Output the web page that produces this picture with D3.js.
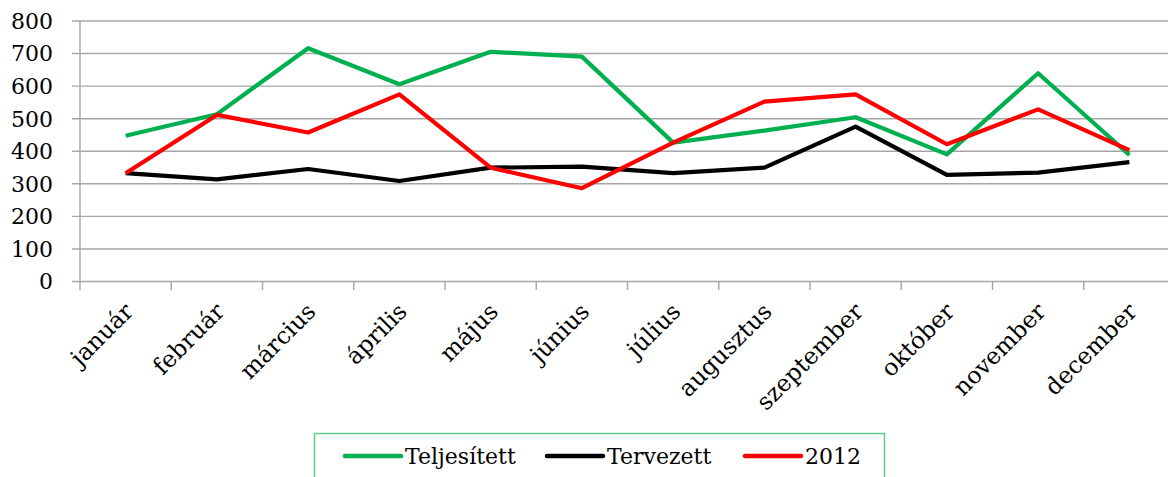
<!DOCTYPE html>
<html>
<head>
<meta charset="utf-8">
<script src="https://cdn.jsdelivr.net/npm/d3@7"></script>
<style>
  body { margin: 0; background: #fff; }
  svg { display: block; }
  text { font-family: "DejaVu Serif", "Liberation Serif", serif; fill: #000; }
</style>
</head>
<body>
<svg id="chart" width="1168" height="477"></svg>
<script>
// data
var months = ["január", "február", "március", "április", "május", "június",
              "július", "augusztus", "szeptember", "október", "november", "december"];
var teljesitett = [446, 512, 715, 604, 704, 689, 425, 462, 503, 389, 638, 387];
var tervezett   = [331, 312, 344, 307, 348, 351, 331, 348, 474, 326, 333, 365];
var ev2012      = [331, 510, 456, 573, 348, 285, 425, 551, 573, 420, 527, 402];
var yTicks = [0, 100, 200, 300, 400, 500, 600, 700, 800];

var series = [
    {name: "Teljesített", values: teljesitett, color: "#00b050"},
    {name: "Tervezett",   values: tervezett,   color: "#000000"},
    {name: "2012",        values: ev2012,      color: "#ff0000"}
];

function drawChart() {
    var svg = d3.select("#chart");

    // plot area (right edge runs slightly past the picture, as in the original)
    var pLeft = 80, pRight = 1175, pTop = 20.5, pBottom = 281;

    var x = d3.scaleBand().domain(months).range([pLeft, pRight]);
    var y = d3.scaleLinear().domain([0, 800]).range([pBottom, pTop]);

    // horizontal gridlines with little ticks to the left
    var yAxis = d3.axisLeft(y)
        .tickValues(yTicks)
        .tickSize(-(pRight - pLeft))
        .tickSizeOuter(0)
        .tickPadding(27);

    var gy = svg.append("g")
        .attr("transform", "translate(" + pLeft + ",0)")
        .call(yAxis);
    gy.select(".domain").remove();
    gy.selectAll(".tick line")
        .attr("x1", -8)
        .attr("stroke", "#a6a6a6")
        .attr("stroke-width", 1.4);
    gy.selectAll(".tick text")
        .style("font-family", "DejaVu Serif")
        .style("font-size", "22px")
        .attr("fill", "#000")
        .attr("dy", "0.36em");

    // vertical axis line
    svg.append("line")
        .attr("x1", pLeft).attr("x2", pLeft)
        .attr("y1", pTop).attr("y2", pBottom + 9)
        .attr("stroke", "#a6a6a6")
        .attr("stroke-width", 1.4);

    // x axis ticks at band boundaries
    var bounds = months.map(function(m) { return x(m); });
    svg.selectAll("line.xtick")
        .data(bounds.slice(1))
        .enter()
        .append("line")
        .attr("class", "xtick")
        .attr("x1", function(d) { return d; })
        .attr("x2", function(d) { return d; })
        .attr("y1", pBottom)
        .attr("y2", pBottom + 9)
        .attr("stroke", "#a6a6a6")
        .attr("stroke-width", 1.4);

    // rotated month labels
    svg.selectAll("text.xlabel")
        .data(months)
        .enter()
        .append("text")
        .attr("class", "xlabel")
        .attr("text-anchor", "end")
        .style("font-size", "23.5px")
        .attr("transform", function(d) {
            var cx = x(d) + x.bandwidth() / 2 + 9;
            return "translate(" + cx + "," + (pBottom + 32) + ") rotate(-45)";
        })
        .text(function(d) { return d; });

    // the lines
    var line = d3.line()
        .x(function(d, i) { return x(months[i]) + x.bandwidth() / 2; })
        .y(function(d) { return y(d); });

    svg.selectAll("path.series")
        .data(series)
        .enter()
        .append("path")
        .attr("class", "series")
        .attr("d", function(d) { return line(d.values); })
        .attr("fill", "none")
        .attr("stroke", function(d) { return d.color; })
        .attr("stroke-width", 4.2)
        .attr("stroke-linejoin", "round");

    // legend
    var legend = svg.append("g");
    legend.append("rect")
        .attr("x", 314.5).attr("y", 433.5)
        .attr("width", 570).attr("height", 60)
        .attr("fill", "#fff")
        .attr("stroke", "#5ccb8a")
        .attr("stroke-width", 1.5);

    var legendX = [345, 547, 745];
    var items = legend.selectAll("g.item")
        .data(series)
        .enter()
        .append("g")
        .attr("class", "item")
        .attr("transform", function(d, i) { return "translate(" + legendX[i] + ",456)"; });
    items.append("line")
        .attr("x1", 0).attr("x2", 56)
        .attr("stroke", function(d) { return d.color; })
        .attr("stroke-width", 4.5)
        .attr("stroke-linecap", "round");
    items.append("text")
        .attr("x", 60)
        .attr("y", 8)
        .style("font-size", "22px")
        .text(function(d) { return d.name; });
}

drawChart();
</script>
</body>
</html>
